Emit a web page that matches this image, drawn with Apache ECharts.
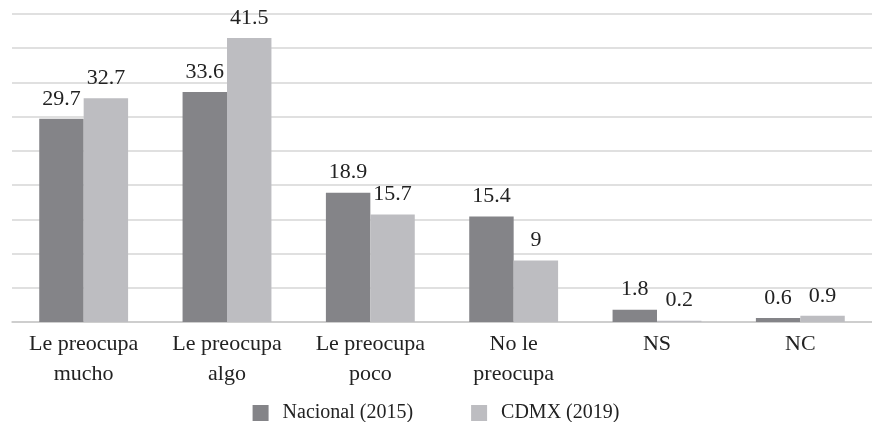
<!DOCTYPE html>
<html><head><meta charset="utf-8">
<script src="https://cdn.jsdelivr.net/npm/echarts@6/dist/echarts.min.js"></script>
<style>html,body{margin:0;padding:0;background:#fff}#c{width:872px;height:422px}</style>
</head><body><div id="c"></div>
<script>
const categories = ['Le preocupa\nmucho','Le preocupa\nalgo','Le preocupa\npoco','No le\npreocupa','NS','NC'];
const seriesNames = ['Nacional (2015)','CDMX (2019)'];
const nacional = [29.7, 33.6, 18.9, 15.4, 1.8, 0.6];
const cdmx = [32.7, 41.5, 15.7, 9, 0.2, 0.9];
const colors = ['#848488','#bdbdc1'];
const font = '"Liberation Serif", serif';
const chart = echarts.init(document.getElementById('c'));
const lbl = {show:true, position:'top', distance:9, color:'#222', fontFamily:font, fontSize:22, fontWeight:'normal'};
chart.setOption({
  animation:false,
  textStyle:{fontFamily:font},
  grid:{left:12, width:870, top:14, height:308},
  legend:{top:398, left:'center', itemWidth:16, itemHeight:16, itemGap:58, icon:'rect',
    textStyle:{fontFamily:font, fontSize:20, color:'#222', padding:[0,0,0,9]}, data:seriesNames},
  xAxis:{type:'category', data:categories, axisTick:{show:false},
    axisLine:{lineStyle:{color:'#c8c8c8', width:1.5}},
    axisLabel:{fontFamily:font, fontSize:22, color:'#222', margin:7, lineHeight:30, interval:0}},
  yAxis:{type:'value', min:0, max:45, interval:5, axisLabel:{show:false},
    splitLine:{lineStyle:{color:'#d6d6d6', width:1.5}}, axisLine:{show:false}, axisTick:{show:false}},
  series:[
    {name:seriesNames[0], type:'bar', data:nacional, itemStyle:{color:colors[0]}, barGap:'0%', barCategoryGap:'38%', label:lbl},
    {name:seriesNames[1], type:'bar', data:cdmx, itemStyle:{color:colors[1]}, label:lbl}
  ]
});
</script></body></html>
